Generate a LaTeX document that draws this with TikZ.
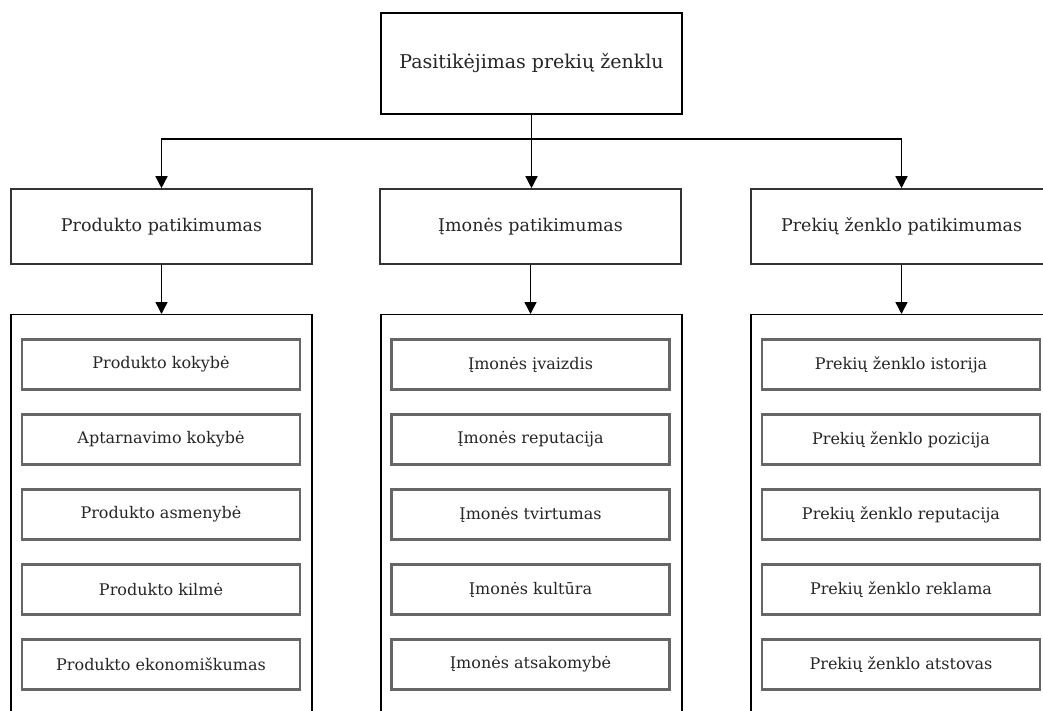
\documentclass[tikz,border=0pt]{standalone}
\usepackage{fontspec}
\setmainfont{DejaVu Serif}
\usetikzlibrary{arrows.meta}
\begin{document}
\begin{tikzpicture}[x=1pt,y=-1pt,
  every node/.style={text=black!85, inner sep=0pt},
  topbox/.style={draw=black, line width=1.6pt, minimum width=301pt, minimum height=101pt, font=\fontsize{19}{22}\selectfont},
  catbox/.style={draw=black!80, line width=1.6pt, minimum width=301pt, minimum height=75pt, font=\fontsize{17.5}{20}\selectfont},
  holder/.style={draw=black, line width=1.3pt, minimum width=301pt, minimum height=420pt, anchor=north},
  itembox/.style={draw=black!60, line width=2.2pt, minimum width=278pt, minimum height=50pt, font=\fontsize{16}{19}\selectfont},
  conn/.style={draw=black, line width=1.5pt},
  arr/.style={conn, -{Triangle[width=12pt,length=12pt]}}
]
\clip (0,0) rectangle (1043,711);
\fill[white] (0,0) rectangle (1043,711);

\node[topbox] (top) at (531.5,63.5) {Pasitikėjimas prekių ženklu};

\node[catbox] (c1) at (161.5,226.5) {Produkto patikimumas};
\node[catbox] (c2) at (530.5,226.5) {Įmonės patikimumas};
\node[catbox] (c3) at (901.5,226.5) {Prekių ženklo patikimumas};

\node[holder] (h1) at (161.5,314) {};
\node[holder] (h2) at (531.5,314) {};
\node[holder] (h3) at (901.5,314) {};

\coordinate (j) at (531.5,139);
\draw[conn] (top.south) -- (j);
\draw[arr] (j) -| (c1.north);
\draw[arr] (j) -| (c3.north);
\draw[arr] (j) -- (j |- c2.north);

\draw[arr] (c1.south) -- (h1.north);
\draw[arr] (c2.south) -- (c2.south |- h2.north);
\draw[arr] (c3.south) -- (h3.north);

\node[itembox] (a1) at (161,364.5) {Produkto kokybė};
\node[itembox] (a2) at (161,439.5) {Aptarnavimo kokybė};
\node[itembox] (a3) at (161,514.5) {Produkto asmenybė};
\node[itembox] (a4) at (161,589.5) {Produkto kilmė};
\node[itembox] (a5) at (161,664.5) {Produkto ekonomiškumas};

\node[itembox] (b1) at (530.5,364.5) {Įmonės įvaizdis};
\node[itembox] (b2) at (530.5,439.5) {Įmonės reputacija};
\node[itembox] (b3) at (530.5,514.5) {Įmonės tvirtumas};
\node[itembox] (b4) at (530.5,589.5) {Įmonės kultūra};
\node[itembox] (b5) at (530.5,664.5) {Įmonės atsakomybė};

\node[itembox] (d1) at (901,364.5) {Prekių ženklo istorija};
\node[itembox] (d2) at (901,439.5) {Prekių ženklo pozicija};
\node[itembox] (d3) at (901,514.5) {Prekių ženklo reputacija};
\node[itembox] (d4) at (901,589.5) {Prekių ženklo reklama};
\node[itembox] (d5) at (901,664.5) {Prekių ženklo atstovas};
\end{tikzpicture}
\end{document}
